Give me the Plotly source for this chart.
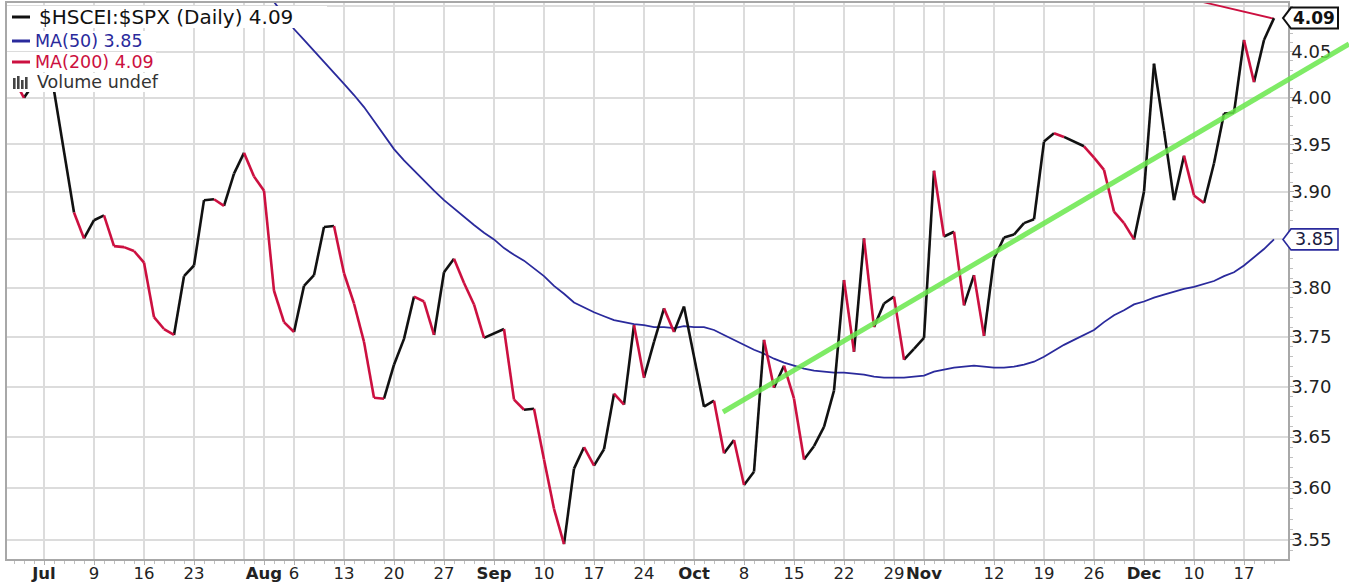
import math
import pandas as pd
import plotly.graph_objects as go

# ---------------- data ----------------
dates = pd.bdate_range("2012-06-26", "2012-12-20")  # weekday slots (k=-4 .. 123)

price = [
    4.015, 4.020, 4.000, 4.016, None, 4.008, None, 3.878, 3.851, 3.870,
    3.875, 3.843, 3.842, 3.838, 3.826, 3.770, 3.758, 3.752, 3.812, 3.823,
    3.891, 3.892, 3.885, 3.919, 3.941, 3.916, 3.901, 3.797, 3.765, 3.755,
    3.802, 3.813, 3.863, 3.864, 3.815, 3.784, 3.745, 3.689, 3.688, 3.722,
    3.748, 3.791, 3.786, 3.752, 3.816, 3.830, 3.805, 3.783, 3.749, None,
    3.758, 3.687, 3.677, 3.678, 3.628, 3.580, 3.546, 3.619, 3.640, 3.622,
    3.638, 3.693, 3.682, 3.762, 3.709, 3.745, 3.779, 3.755, 3.781, None,
    3.680, 3.686, 3.634, 3.647, 3.603, 3.616, 3.747, 3.699, 3.721, 3.688,
    3.628, 3.641, 3.660, 3.696, 3.808, 3.735, 3.851, 3.760, 3.784, 3.791,
    3.727, 3.738, 3.749, 3.922, 3.853, 3.858, 3.782, 3.813, 3.751, 3.830,
    3.852, 3.855, 3.867, 3.871, 3.953, 3.962, 3.958, None, 3.948, 3.936,
    3.923, 3.879, 3.867, 3.850, 3.900, 4.037, 3.965, 3.891, 3.938, 3.896,
    3.888, 3.930, 3.983, 3.984, 4.063, 4.017, 4.063, 4.087,
]
# bar colour of each day (K = black / up bar, R = red / down bar)
bar_color = ("KKRK-K-KRKKRRRRRRRKKKKRKKRRRRRKKKKRRRRRKKKRRKKRRR-KRRKRRRKKRKKRKRKKRK-"
             "KKRKRKKRKRRKKKKRKRKKRKKKRKRKRKKKKKKKR-KRRRRRKKKKKRRKKKKRKK")

ma50_start = "2012-08-01"
ma50 = [
    4.115, 4.105, 4.090, 4.075, 4.063, 4.051, 4.040, 4.028, 4.015, 4.003,
    3.990, 3.975, 3.960, 3.945, 3.933, 3.922, 3.911, 3.901, 3.891, 3.882,
    3.873, 3.865, 3.857, 3.850, 3.841, 3.834, 3.828, 3.820, 3.812, 3.802,
    3.794, 3.785, 3.780, 3.775, 3.771, 3.767, 3.765, 3.763, 3.762, 3.760,
    3.760, 3.759, 3.761, 3.760, 3.760, 3.757, 3.752, 3.747, 3.742, 3.737,
    3.733, 3.728, 3.724, 3.721, 3.718, 3.716, 3.715, 3.714, 3.714, 3.713,
    3.712, 3.710, 3.709, 3.709, 3.709, 3.710, 3.711, 3.715, 3.717, 3.719,
    3.720, 3.721, 3.720, 3.719, 3.719, 3.720, 3.722, 3.725, 3.730, 3.736,
    3.742, 3.747, 3.752, 3.757, 3.765, 3.772, 3.777, 3.783, 3.786, 3.790,
    3.793, 3.796, 3.799, 3.801, 3.804, 3.807, 3.812, 3.816, 3.823, 3.831,
    3.840, 3.850,
]
ma200_start = "2012-12-07"
ma200 = [4.1097, 4.1071, 4.1045, 4.1019, 4.0993, 4.0966, 4.0941, 4.0915, 4.0889, 4.0863]

y_ticks = [3.55, 3.60, 3.65, 3.70, 3.75, 3.80, 3.85, 3.90, 3.95, 4.00, 4.05, 4.10]
x_tick_dates = ["2012-07-02", "2012-07-09", "2012-07-16", "2012-07-23", "2012-07-30",
                "2012-08-01", "2012-08-06", "2012-08-13", "2012-08-20", "2012-08-27",
                "2012-09-03", "2012-09-10", "2012-09-17", "2012-09-24", "2012-10-01",
                "2012-10-08", "2012-10-15", "2012-10-22", "2012-10-29", "2012-11-01",
                "2012-11-05", "2012-11-12", "2012-11-19", "2012-11-26", "2012-12-03",
                "2012-12-10", "2012-12-17"]
x_tick_text = ["<b>Jul</b>", "9", "16", "23", "", "<b>Aug</b>", "6", "13", "20", "27",
               "<b>Sep</b>", "10", "17", "24", "<b>Oct</b>", "8", "15", "22", "29",
               "<b>Nov</b>", "", "12", "19", "26", "<b>Dec</b>", "10", "17"]
month_starts = ["2012-07-02", "2012-08-01", "2012-09-03", "2012-10-01", "2012-11-01", "2012-12-03"]

# ---------------- geometry helpers (layout only) ----------------
W, H = 1349, 583
L, R, T, B = 7, 61, 3, 24
PW, PH = W - L - R, H - T - B
Y_LO, Y_HI = math.log10(3.5318), math.log10(4.1037)


def px(xp):
    return (xp - L) / PW


def py(yp):
    return (H - B - yp) / PH


def pv(v):
    return (math.log10(v) - Y_LO) / (Y_HI - Y_LO)


BLACK = "#111111"
RED = "#cc1040"
NAVY = "#2a2a9c"

fig = go.Figure()

# price line, split in coloured segments
segs = {"K": ([], []), "R": ([], [])}
prev = None
for i, v in enumerate(price):
    if v is None:
        continue
    if prev is not None:
        xs, ys = segs[bar_color[i]]
        xs += [dates[prev], dates[i], None]
        ys += [price[prev], v, None]
    prev = i

ma50_dates = pd.bdate_range(ma50_start, periods=len(ma50))
ma200_dates = pd.bdate_range(ma200_start, periods=len(ma200))

fig.add_trace(go.Scatter(x=ma50_dates, y=ma50, mode="lines",
                         line=dict(color=NAVY, width=1.8), hoverinfo="skip"))
fig.add_trace(go.Scatter(x=ma200_dates, y=ma200, mode="lines",
                         line=dict(color=RED, width=1.8), hoverinfo="skip"))
for key, col in (("K", BLACK), ("R", RED)):
    xs, ys = segs[key]
    fig.add_trace(go.Scatter(x=xs, y=ys, mode="lines",
                             line=dict(color=col, width=2.6), hoverinfo="skip"))

shapes = []
# darker month gridlines
for d in month_starts:
    shapes.append(dict(type="line", xref="x", yref="paper", x0=d, x1=d, y0=0, y1=1,
                       line=dict(color="#b4b4b4", width=1.5), layer="below"))

# legend backgrounds
for (x0, y0, x1, y1) in [(7, 6, 327, 28), (7, 31, 146, 51), (7, 52, 156, 72), (7, 73, 160, 92)]:
    shapes.append(dict(type="rect", xref="paper", yref="paper", x0=px(x0), x1=px(x1),
                       y0=py(y1), y1=py(y0), fillcolor="white", line=dict(width=0), layer="above"))
# legend icons
for yy, col in ((17, BLACK), (41, NAVY), (62, RED)):
    shapes.append(dict(type="line", xref="paper", yref="paper", x0=px(12), x1=px(30),
                       y0=py(yy), y1=py(yy), line=dict(color=col, width=3), layer="above"))
for (bx, btop) in ((13, 78), (17, 76), (21, 80), (25, 77)):
    shapes.append(dict(type="rect", xref="paper", yref="paper", x0=px(bx), x1=px(bx + 2.6),
                       y0=py(89), y1=py(btop), fillcolor="#444444", line=dict(width=0), layer="above"))

# trend line (hand drawn)
shapes.append(dict(type="line", xref="paper", yref="paper", x0=px(723), y0=py(412),
                   x1=px(1349), y1=py(44), line=dict(color="rgba(105,232,75,0.85)", width=5),
                   layer="above"))


def value_box(v, edge, fill="white", width=1.6, h=10.5):
    yc = pv(v)
    hh = h / PH
    path = (f"M {px(1283)},{yc} L {px(1291)},{yc + hh} L {px(1338)},{yc + hh} "
            f"L {px(1338)},{yc - hh} L {px(1291)},{yc - hh} Z")
    return dict(type="path", xref="paper", yref="paper", path=path,
                fillcolor=fill, line=dict(color=edge, width=width), layer="above")


last_price = price[-1]
last_ma50 = ma50[-1]
shapes.append(value_box(last_ma50, NAVY))
shapes.append(value_box(last_price, BLACK, width=2))

annotations = [
    dict(xref="paper", yref="paper", x=px(37), y=py(17), xanchor="left", yanchor="middle",
         text=f"$HSCEI:$SPX (Daily) {last_price:.2f}", showarrow=False,
         font=dict(family="DejaVu Sans", size=20, color=BLACK)),
    dict(xref="paper", yref="paper", x=px(33), y=py(41), xanchor="left", yanchor="middle",
         text=f"MA(50) {last_ma50:.2f}", showarrow=False,
         font=dict(family="DejaVu Sans", size=17.5, color=NAVY)),
    dict(xref="paper", yref="paper", x=px(33), y=py(62), xanchor="left", yanchor="middle",
         text=f"MA(200) {ma200[-1]:.2f}", showarrow=False,
         font=dict(family="DejaVu Sans", size=17.5, color=RED)),
    dict(xref="paper", yref="paper", x=px(35), y=py(82), xanchor="left", yanchor="middle",
         text="Volume undef", showarrow=False,
         font=dict(family="DejaVu Sans", size=17.5, color="#333333")),
    dict(xref="paper", yref="paper", x=px(1314), y=pv(last_price), xanchor="center", yanchor="middle",
         text=f"<b>{last_price:.2f}</b>", showarrow=False,
         font=dict(family="DejaVu Sans", size=17, color=BLACK)),
    dict(xref="paper", yref="paper", x=px(1314), y=pv(last_ma50), xanchor="center", yanchor="middle",
         text=f"{last_ma50:.2f}", showarrow=False,
         font=dict(family="DejaVu Sans", size=17.5, color="#1a1a40")),
]

# tick labels hidden behind the value boxes are left blank (the boxes show them)
y_tick_text = ["" if abs(v - 3.85) < 1e-9 or abs(v - 4.10) < 1e-9 else f"{v:.2f}" for v in y_ticks]
minor_y = [round(3.53 + 0.01 * i, 2) for i in range(58)]

fig.update_layout(
    width=W, height=H, margin=dict(l=L, r=R, t=T, b=B, autoexpand=False),
    plot_bgcolor="white", paper_bgcolor="white", showlegend=False,
    shapes=shapes, annotations=annotations,
)
fig.update_xaxes(
    type="date", range=["2012-06-26 07:12", "2012-12-21 09:36"],
    rangebreaks=[dict(bounds=["sat", "mon"])], automargin=False,
    tickmode="array", tickvals=x_tick_dates, ticktext=x_tick_text, tickangle=0,
    ticklabelstandoff=-6,
    showgrid=True, gridcolor="#dcdcdc", gridwidth=1.5,
    ticks="outside", ticklen=4, tickcolor="#b0b0b0",
    showline=True, linecolor="#a8a8a8", linewidth=1.5, mirror=True, zeroline=False,
    tickfont=dict(family="DejaVu Sans", size=16.5, color="#222222"),
    minor=dict(tickmode="array", tickvals=list(dates), ticks="outside", ticklen=3,
               tickcolor="#c0c0c0", showgrid=False),
)
fig.update_yaxes(
    type="log", side="right", range=[Y_LO, Y_HI], automargin=False,
    tickmode="array", tickvals=y_ticks, ticktext=y_tick_text, ticklabelstandoff=-6,
    showgrid=True, gridcolor="#dcdcdc", gridwidth=1.5,
    ticks="outside", ticklen=4, tickcolor="#b0b0b0",
    showline=True, linecolor="#a8a8a8", linewidth=1.5, mirror=True, zeroline=False,
    tickfont=dict(family="DejaVu Sans", size=18, color="#222222"),
    minor=dict(tickmode="array", tickvals=minor_y, ticks="outside", ticklen=3,
               tickcolor="#c0c0c0", showgrid=False),
)

fig.write_html("out.html", config={"displayModeBar": False},
               post_script="document.body.style.margin='0';document.body.style.overflow='hidden';")
